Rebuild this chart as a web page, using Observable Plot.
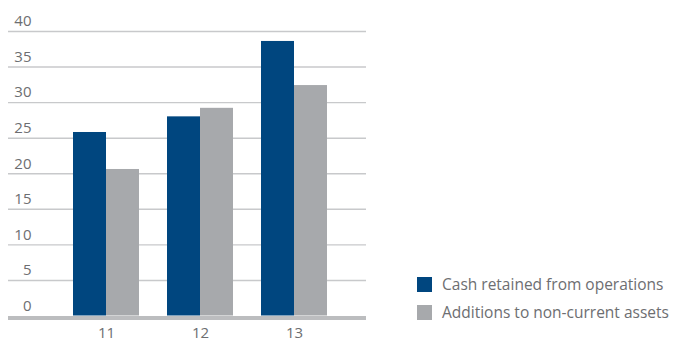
<!DOCTYPE html>
<html>
<head>
<meta charset="utf-8">
<script src="https://cdn.jsdelivr.net/npm/d3@7"></script>
<script src="https://cdn.jsdelivr.net/npm/@observablehq/plot@0.6"></script>
<style>
  html, body { margin: 0; padding: 0; background: #fff; }
  #wrap { position: relative; width: 673px; height: 341px; font-family: "Open Sans", sans-serif; }
  #legend { position: absolute; left: 417px; top: 270px; font-size: 15.5px; color: #6d6e71; }
  .item { display: flex; align-items: center; height: 28px; white-space: nowrap; }
  .sw { width: 15px; height: 15px; margin-right: 10px; }
</style>
</head>
<body>
<div id="wrap"><div id="chart"></div><div id="legend"></div></div>
<script>
const years = ["11", "12", "13"];
const cashRetained = [25.8, 28.0, 38.6];
const additions = [20.6, 29.2, 32.4];
const seriesNames = ["Cash retained from operations", "Additions to non-current assets"];
const seriesColors = ["#00467f", "#a7a9ac"];
const yTicks = [0, 5, 10, 15, 20, 25, 30, 35, 40];

const rows = years.map((y, i) => ({year: y, cash: cashRetained[i], add: additions[i]}));
const half = 33;

const chart = Plot.plot({
  width: 673,
  height: 341,
  marginLeft: 8,
  marginRight: 307,
  marginTop: 31,
  marginBottom: 25.5,
  style: {fontFamily: "Open Sans, sans-serif", fontSize: "15px", color: "#6d6e71", background: "#fff"},
  x: {type: "band", domain: years, range: [59, 341], paddingInner: 0.3, paddingOuter: 0.15, label: null},
  y: {domain: [0, 40], label: null},
  marks: [
    Plot.ruleY(yTicks.filter(d => d > 0), {stroke: "#c8c9cb", strokeWidth: 1.4}),
    Plot.barY(rows, {x: "year", y: "cash", fill: seriesColors[0], insetRight: half}),
    Plot.barY(rows, {x: "year", y: "add", fill: seriesColors[1], insetLeft: half}),
    Plot.ruleY([0], {stroke: "#bcbdbf", strokeWidth: 4, dy: 2}),
    Plot.axisY({ticks: yTicks, tickSize: 0, tickPadding: 0, textAnchor: "end", dx: 23, dy: -10, fill: "#6d6e71", fontSize: 15}),
    Plot.axisX({tickSize: 0, tickPadding: 11, fill: "#6d6e71", fontSize: 15})
  ]
});
document.getElementById("chart").appendChild(chart);

const legend = document.getElementById("legend");
seriesNames.forEach((name, i) => {
  const item = document.createElement("div");
  item.className = "item";
  const sw = document.createElement("div");
  sw.className = "sw";
  sw.style.background = seriesColors[i];
  const t = document.createElement("span");
  t.textContent = name;
  item.appendChild(sw);
  item.appendChild(t);
  legend.appendChild(item);
});
</script>
</body>
</html>
